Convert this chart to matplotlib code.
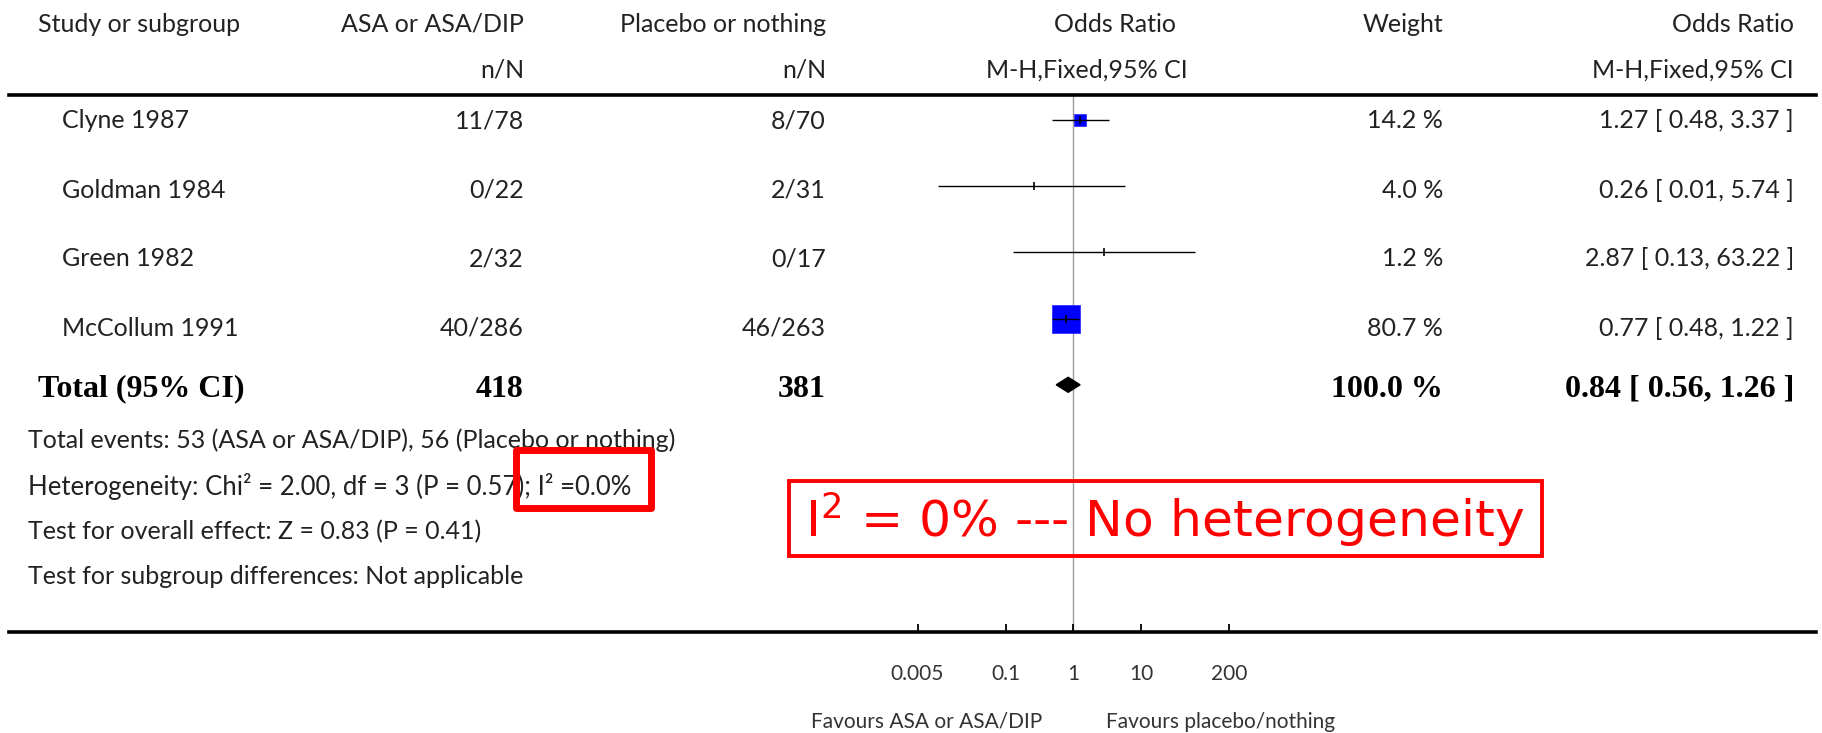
import matplotlib
matplotlib.use("Agg")
import matplotlib.pyplot as plt
from matplotlib.transforms import Affine2D
from matplotlib.patches import Rectangle, Polygon
from matplotlib.lines import Line2D

# ---------------- data ----------------
studies = ["Clyne 1987", "Goldman 1984", "Green 1982", "McCollum 1991"]
asa_events = ["11/78", "0/22", "2/32", "40/286"]
placebo_events = ["8/70", "2/31", "0/17", "46/263"]
odds_ratio = [1.27, 0.26, 2.87, 0.77]
ci_low = [0.48, 0.01, 0.13, 0.48]
ci_high = [3.37, 5.74, 63.22, 1.22]
weights = [14.2, 4.0, 1.2, 80.7]

total_label = "Total (95% CI)"
total_asa = 418
total_placebo = 381
total_weight = 100.0
total_or = 0.84
total_low = 0.56
total_high = 1.26

tick_values = [0.005, 0.1, 1, 10, 200]
tick_labels = ["0.005", "0.1", "1", "10", "200"]

footer_lines = [
    "Total events: 53 (ASA or ASA/DIP), 56 (Placebo or nothing)",
    "Heterogeneity: Chi\u00b2 = 2.00, df = 3 (P = 0.57); I\u00b2 =0.0%",
    "Test for overall effect: Z = 0.83 (P = 0.41)",
    "Test for subgroup differences: Not applicable",
]
annotation = r"I$^{2}$ = 0% --- No heterogeneity"
favours_left = "Favours ASA or ASA/DIP"
favours_right = "Favours placebo/nothing"

# ---------------- layout ----------------
plt.rcParams["mathtext.fontset"] = "dejavusans"
W, H = 1822, 733
fig = plt.figure(figsize=(W / 100, H / 100), dpi=100)
fig.patch.set_facecolor("white")
PX = Affine2D().scale(1 / W, -1 / H).translate(0, 1) + fig.transFigure

SANS = "Lato"
SERIF = "Liberation Serif"
FS = 18
FS_BOLD = 23
FS_AX = 15

top_line_y, bot_line_y = 95, 632
row0_y, row_step = 120, 66.2
x_one, px_decade = 1073.3, 67.7
xmin, xmax = 1e-3, 1e3
ax_left = x_one - 3 * px_decade
ax_right = x_one + 3 * px_decade

ax = fig.add_axes([ax_left / W, (H - bot_line_y) / H,
                   (ax_right - ax_left) / W, (bot_line_y - top_line_y) / H])
ax.set_xscale("log")
ax.set_xlim(xmin, xmax)
ax.set_ylim((bot_line_y - row0_y) / row_step, (top_line_y - row0_y) / row_step)
ax.patch.set_alpha(0)
for s in ax.spines.values():
    s.set_visible(False)
ax.set_yticks([])
ax.set_xticks(tick_values)
ax.set_xticklabels(tick_labels, fontsize=FS_AX, family=SANS, color="#333333")
ax.minorticks_off()
ax.tick_params(axis="x", direction="in", length=5.5, width=1.3, pad=23, color="black")

rows = list(range(len(studies)))
total_row = len(studies)

# reference line at OR = 1
ax.axvline(1, color="#9a9a9a", lw=1.0, zorder=1)

# CIs and point estimates
ax.hlines(rows, ci_low, ci_high, color="black", lw=1.0, zorder=3)
box_min_weight = 10
for y, o, w in zip(rows, odds_ratio, weights):
    if w >= box_min_weight:
        ax.scatter([o], [y], s=5.2 * w, marker="s", color="#0000ff",
                   edgecolors="#3333ff", linewidths=0.6, zorder=2)
ax.plot(odds_ratio, rows, ls="none", marker="|", ms=6, mew=1.2, color="black", zorder=4)

# diamond
dh = 7.5 / row_step
ax.add_patch(Polygon([(total_low, total_row), (total_or, total_row - dh),
                      (total_high, total_row), (total_or, total_row + dh)],
                     closed=True, color="black", zorder=4))

# horizontal rules
fig.add_artist(Line2D([9, 1816], [top_line_y, top_line_y], transform=PX, color="black", lw=2.6))
fig.add_artist(Line2D([9, 1816], [bot_line_y, bot_line_y], transform=PX, color="black", lw=2.6))

# ---------------- table text ----------------
def ftext(x, y, s, **kw):
    kw.setdefault("family", SANS)
    kw.setdefault("fontsize", FS)
    kw.setdefault("color", "#222222")
    kw.setdefault("va", "center")
    fig.text(x / W, 1 - y / H, s, **kw)

col_study_hdr = 38
col_study = 62
col_asa = 524
col_plc = 826
col_or_center = 1115
col_or_sub_center = 1087
col_weight = 1443
col_ci = 1794

h1, h2 = 24, 70
ftext(col_study_hdr, h1, "Study or subgroup", ha="left")
ftext(col_asa, h1, "ASA or ASA/DIP", ha="right")
ftext(col_asa, h2, "n/N", ha="right")
ftext(col_plc, h1, "Placebo or nothing", ha="right")
ftext(col_plc, h2, "n/N", ha="right")
ftext(col_or_center, h1, "Odds Ratio", ha="center")
ftext(col_or_sub_center, h2, "M-H,Fixed,95% CI", ha="center")
ftext(col_weight, h1, "Weight", ha="right")
ftext(col_ci, h1, "Odds Ratio", ha="right")
ftext(col_ci, h2, "M-H,Fixed,95% CI", ha="right")

text_rows_px = [121, 190, 259, 328]
total_text_px = 389
for ty, name, a, p, o, lo, hi, w in zip(text_rows_px, studies, asa_events, placebo_events,
                                          odds_ratio, ci_low, ci_high, weights):
    ftext(col_study, ty, name, ha="left")
    ftext(col_asa, ty, a, ha="right")
    ftext(col_plc, ty, p, ha="right")
    ftext(col_weight, ty, f"{w:.1f} %", ha="right")
    ftext(col_ci, ty, f"{o:.2f} [ {lo:.2f}, {hi:.2f} ]", ha="right")

bold = dict(family=SERIF, fontweight="bold", fontsize=FS_BOLD, color="black")
ftext(col_study_hdr, total_text_px, total_label, ha="left", **bold)
ftext(col_asa, total_text_px, str(total_asa), ha="right", **bold)
ftext(col_plc, total_text_px, str(total_placebo), ha="right", **bold)
ftext(col_weight, total_text_px, f"{total_weight:.1f} %", ha="right", **bold)
ftext(col_ci, total_text_px, f"{total_or:.2f} [ {total_low:.2f}, {total_high:.2f} ]",
      ha="right", **bold)

footer_y = [440, 486, 532, 576]
footer_fs = [18, 18.5, 18, 18]
for y, s, f in zip(footer_y, footer_lines, footer_fs):
    ftext(28, y, s, ha="left", fontsize=f)

# favours labels
ftext(1042, 722, favours_left, ha="right", fontsize=FS_AX, color="#333333")
ftext(1106, 722, favours_right, ha="left", fontsize=FS_AX, color="#333333")

# ---------------- red annotations ----------------
fig.add_artist(Rectangle((516, 450), 134.5, 58, transform=PX, fill=False,
                         edgecolor="#ff0000", lw=5, joinstyle="round", zorder=10))
fig.add_artist(Rectangle((789, 481), 753, 75, transform=PX, fill=False,
                         edgecolor="#ff0000", lw=2.8, zorder=10))
ftext(805, 519, annotation, ha="left", family="DejaVu Sans", fontsize=36.3,
      color="#ff0000", zorder=10)

fig.savefig("out.png", dpi=100, facecolor="white")
